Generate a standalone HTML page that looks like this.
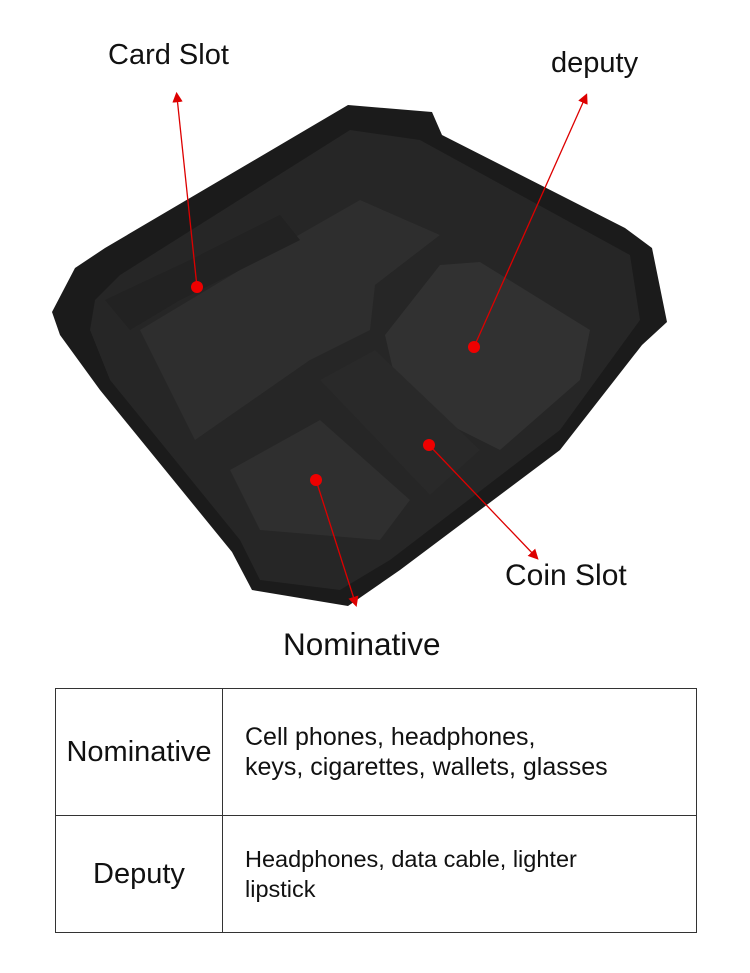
<!DOCTYPE html>
<html><head><meta charset="utf-8"><style>
body{margin:0;width:750px;height:973px;background:#fff;position:relative;overflow:hidden;font-family:"Liberation Sans",sans-serif}
.lbl{position:absolute;font-size:29px;color:#111;white-space:nowrap}
table{position:absolute;left:55px;top:688px;width:642px;height:245px;border-collapse:collapse}
td{border:1.5px solid #333;font-size:25px;color:#111;line-height:30px}
</style></head><body>
<svg width="750" height="973" style="position:absolute;left:0;top:0">
<defs><marker id="a" markerWidth="8" markerHeight="8" refX="4" refY="4" orient="auto"><path d="M0,0 L8,4 L0,8 z" fill="#d00"/></marker></defs>
<polygon points="52,312 75,268 105,248 348,105 432,112 442,135 625,228 652,248 667,322 642,345 560,450 400,570 348,606 252,590 232,552 100,390 60,335" fill="#1b1b1b"/>
<polygon points="95,300 120,275 350,130 420,140 630,255 640,320 560,430 390,560 340,590 260,580 240,540 110,380 90,330" fill="#262626"/>
<polygon points="140,330 290,240 360,200 440,235 375,285 370,330 310,360 195,440" fill="#2e2e2e"/>
<polygon points="385,335 440,265 480,262 590,330 580,380 500,450 400,400" fill="#313131"/>
<polygon points="230,470 320,420 410,500 380,540 260,530" fill="#2f2f2f"/>
<polygon points="320,380 375,350 480,450 430,495" fill="#292929"/>
<polygon points="105,300 190,260 280,215 300,240 180,300 130,330" fill="#222"/>
<g stroke="#d00" stroke-width="1.3" fill="none">
<line x1="197" y1="287" x2="177" y2="97" marker-end="url(#a)"/>
<line x1="474" y1="347" x2="585" y2="98" marker-end="url(#a)"/>
<line x1="429" y1="445" x2="535" y2="556" marker-end="url(#a)"/>
<line x1="316" y1="480" x2="355" y2="602" marker-end="url(#a)"/>
</g>
<g fill="#e00"><circle cx="197" cy="287" r="6"/><circle cx="474" cy="347" r="6"/><circle cx="429" cy="445" r="6"/><circle cx="316" cy="480" r="6"/></g>
</svg>
<div class="lbl" style="left:108px;top:39px">Card Slot</div>
<div class="lbl" style="left:551px;top:47px">deputy</div>
<div class="lbl" style="left:505px;top:559px;font-size:30px">Coin Slot</div>
<div class="lbl" style="left:283px;top:626px;font-size:31.5px">Nominative</div>
<table>
<tr style="height:127px"><td style="width:164px;text-align:center;font-size:29px">Nominative</td><td style="padding-left:22px">Cell phones, headphones,<br>keys, cigarettes, wallets, glasses</td></tr>
<tr><td style="text-align:center;font-size:29px">Deputy</td><td style="padding-left:22px;font-size:23.5px">Headphones, data cable, lighter<br>lipstick</td></tr>
</table>
</body></html>
